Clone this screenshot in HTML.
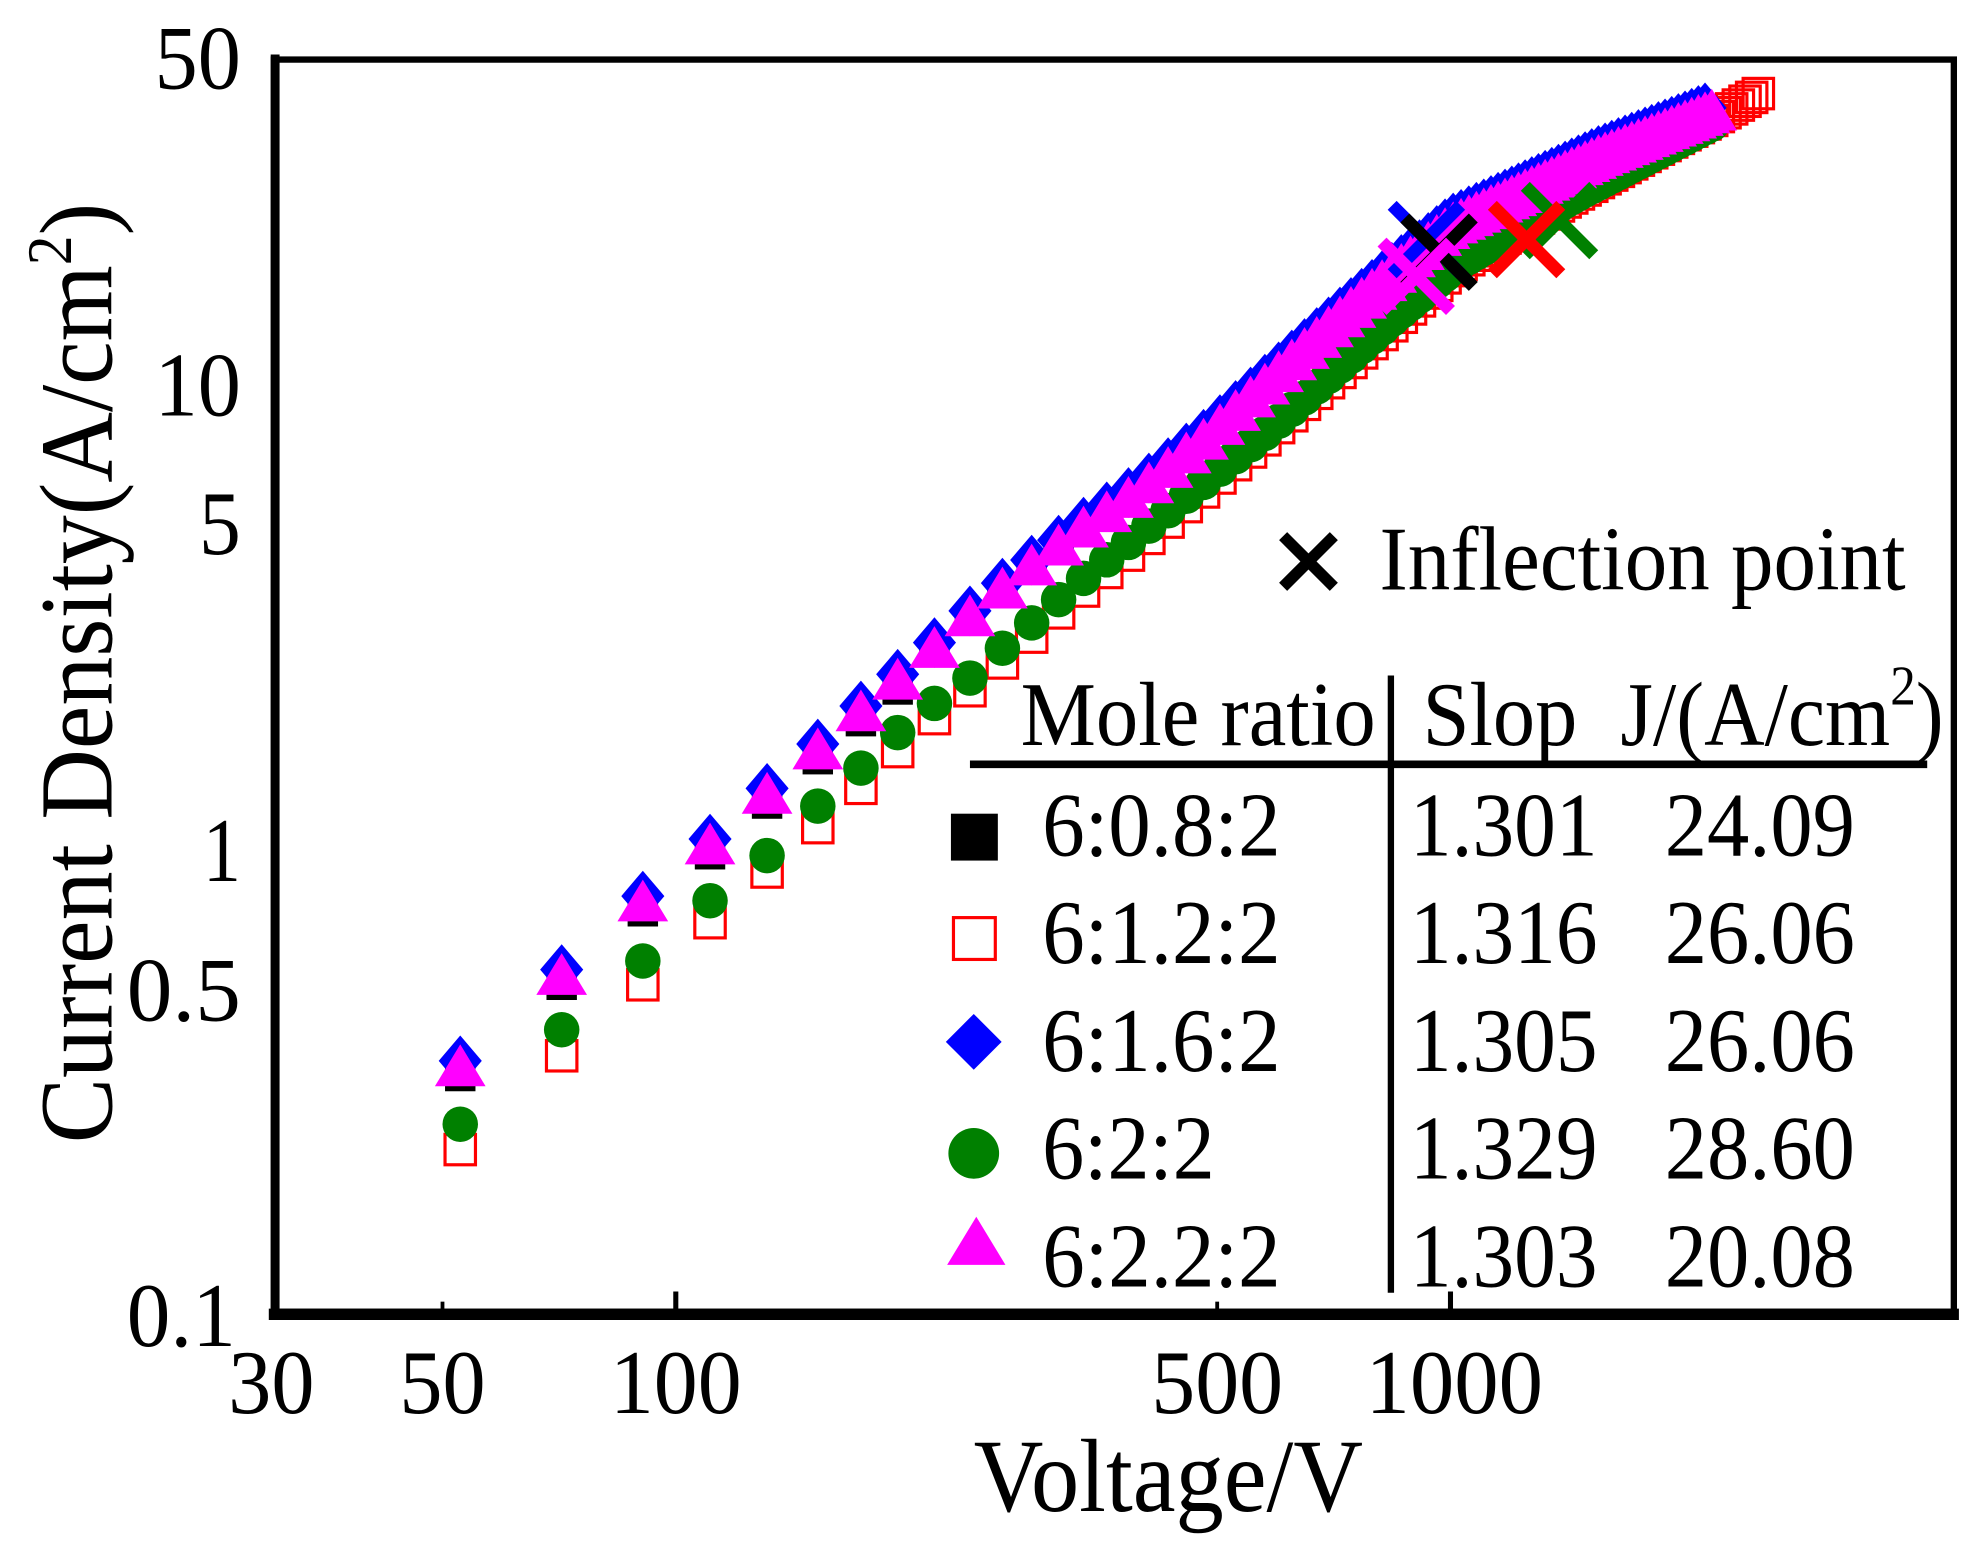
<!DOCTYPE html>
<html><head><meta charset="utf-8"><style>
html,body{margin:0;padding:0;background:#fff;}
svg{display:block;}
text{font-family:"Liberation Serif",serif;fill:#000;}
</style></head><body>
<svg id="s" width="1983" height="1545" viewBox="0 0 1564 1219" preserveAspectRatio="none" xmlns="http://www.w3.org/2000/svg">
<rect x="0" y="0" width="1564" height="1219" fill="#fff"/>
<g id="data"></g>
<rect x="216" y="47" width="1325" height="988" fill="none" stroke="#000" stroke-width="5"/>
<line x1="212" y1="1037" x2="1545" y2="1037" stroke="#000" stroke-width="9"/>
<line x1="217" y1="43" x2="217" y2="1041" stroke="#000" stroke-width="7"/>
<line x1="533" y1="1033" x2="533" y2="1019" stroke="#000" stroke-width="4"/>
<line x1="1144" y1="1033" x2="1144" y2="1019" stroke="#000" stroke-width="4"/>
<line x1="349" y1="1033" x2="349" y2="1027" stroke="#000" stroke-width="3"/>
<line x1="960" y1="1033" x2="960" y2="1027" stroke="#000" stroke-width="3"/>
<g font-size="72" text-anchor="end">
<text x="190" y="70" textLength="68" lengthAdjust="spacingAndGlyphs">50</text>
<text x="190" y="328" textLength="68" lengthAdjust="spacingAndGlyphs">10</text>
<text x="190" y="437" textLength="33" lengthAdjust="spacingAndGlyphs">5</text>
<text x="190" y="695" textLength="30" lengthAdjust="spacingAndGlyphs">1</text>
<text x="190" y="805" textLength="90" lengthAdjust="spacingAndGlyphs">0.5</text>
<text x="186" y="1062" textLength="86" lengthAdjust="spacingAndGlyphs">0.1</text>
</g>
<g font-size="72" text-anchor="middle">
<text x="214" y="1115" textLength="68" lengthAdjust="spacingAndGlyphs">30</text>
<text x="349" y="1115" textLength="68" lengthAdjust="spacingAndGlyphs">50</text>
<text x="533" y="1115" textLength="104" lengthAdjust="spacingAndGlyphs">100</text>
<text x="960" y="1115" textLength="104" lengthAdjust="spacingAndGlyphs">500</text>
<text x="1147" y="1115" textLength="140" lengthAdjust="spacingAndGlyphs">1000</text>
</g>
<text x="768" y="1192" font-size="82" textLength="307" lengthAdjust="spacingAndGlyphs">Voltage/V</text>
<g transform="translate(88,902) rotate(-90)">
<text x="0" y="0" font-size="82" textLength="742" lengthAdjust="spacingAndGlyphs">Current Density(A/cm<tspan font-size="50" dy="-32">2</tspan><tspan dy="32">)</tspan></text>
</g>
<g stroke="#000" stroke-width="9" stroke-linecap="butt">
<line x1="1012" y1="423" x2="1052" y2="463"/><line x1="1052" y1="423" x2="1012" y2="463"/>
</g>
<text x="1088" y="465" font-size="72" textLength="415" lengthAdjust="spacingAndGlyphs">Inflection point</text>
<text x="805" y="588" font-size="72" textLength="280" lengthAdjust="spacingAndGlyphs">Mole ratio</text>
<text x="1122" y="588" font-size="72" textLength="122" lengthAdjust="spacingAndGlyphs">Slop</text>
<text x="1278" y="588" font-size="72" textLength="255" lengthAdjust="spacingAndGlyphs">J/(A/cm<tspan font-size="44" dy="-32">2</tspan><tspan dy="32">)</tspan></text>
<line x1="765" y1="603" x2="1520" y2="603" stroke="#000" stroke-width="6"/>
<line x1="1097" y1="533" x2="1097" y2="1020" stroke="#000" stroke-width="5"/>
<rect x="750" y="642" width="37" height="37" fill="#000"/>
<rect x="752" y="724" width="33" height="33" fill="none" stroke="#f00" stroke-width="2.5"/>
<polygon points="768,800 790,822 768,844 746,822" fill="#00f"/>
<ellipse cx="768" cy="910" rx="20" ry="20" fill="#008000"/>
<polygon points="770,960 793,998 747,998" fill="#f0f"/>
<g font-size="72">
<text x="822" y="675" textLength="188" lengthAdjust="spacingAndGlyphs">6:0.8:2</text>
<text x="822" y="760" textLength="188" lengthAdjust="spacingAndGlyphs">6:1.2:2</text>
<text x="822" y="845" textLength="188" lengthAdjust="spacingAndGlyphs">6:1.6:2</text>
<text x="822" y="930" textLength="136" lengthAdjust="spacingAndGlyphs">6:2:2</text>
<text x="822" y="1015" textLength="188" lengthAdjust="spacingAndGlyphs">6:2.2:2</text>
<text x="1112" y="675" textLength="148" lengthAdjust="spacingAndGlyphs">1.301</text>
<text x="1112" y="760" textLength="148" lengthAdjust="spacingAndGlyphs">1.316</text>
<text x="1112" y="845" textLength="148" lengthAdjust="spacingAndGlyphs">1.305</text>
<text x="1112" y="930" textLength="148" lengthAdjust="spacingAndGlyphs">1.329</text>
<text x="1112" y="1015" textLength="148" lengthAdjust="spacingAndGlyphs">1.303</text>
<text x="1313" y="675" textLength="150" lengthAdjust="spacingAndGlyphs">24.09</text>
<text x="1313" y="760" textLength="150" lengthAdjust="spacingAndGlyphs">26.06</text>
<text x="1313" y="845" textLength="150" lengthAdjust="spacingAndGlyphs">26.06</text>
<text x="1313" y="930" textLength="150" lengthAdjust="spacingAndGlyphs">28.60</text>
<text x="1313" y="1015" textLength="150" lengthAdjust="spacingAndGlyphs">20.08</text>
</g>
</svg>
<script>
(function(){
var NS="http://www.w3.org/2000/svg";
var up=[[363,840],[443,768],[507,710],[560,665],[605,625],[645,590],[679,560],[708,535],[737,510],[765,485],[800,455],[850,418],[900,385],[950,345],[1000,300],[1050,255],[1100,212],[1144,176],[1200,150],[1260,122],[1300,106],[1350,86],[1370,80]];
var gr=[[363,887],[440,815],[505,760],[557,713],[603,677],[645,636],[678,607],[708,578],[737,555],[765,535],[790,512],[850,460],[900,420],[1000,340],[1050,295],[1100,250],[1150,208],[1200,178],[1250,150],[1300,124],[1350,98],[1370,90]];
var rd=[[363,907],[443,833],[507,777],[560,728],[605,688],[645,653],[679,622],[708,593],[737,567],[765,545],[800,515],[850,470],[900,430],[1000,345],[1050,300],[1100,255],[1150,210],[1200,180],[1250,150],[1300,122],[1350,95],[1390,72]];
function itp(p,x){for(var i=0;i<p.length-1;i++){if(x<=p[i+1][0]){var t=(x-p[i][0])/(p[i+1][0]-p[i][0]);return p[i][1]+t*(p[i+1][1]-p[i][1]);}}return p[p.length-1][1];}
var XS=[363,443,507,560,605,645,679,708,737,765];
for(var v=264;v<=2700;v+=Math.max(24,v*0.02))XS.push(533+611*Math.log10(v/100));
var g=document.getElementById("data");
function el(n,a){var e=document.createElementNS(NS,n);for(var k in a)e.setAttribute(k,a[k]);g.appendChild(e);return e;}
XS.forEach(function(x){if(x>1392)return;var y=itp(rd,x);
el("rect",{x:x-12,y:y-12,width:24,height:24,fill:"none",stroke:"#f00","stroke-width":2.5});});
XS.forEach(function(x){if(x>1352)return;var y=itp(gr,x);
el("circle",{cx:x,cy:y,r:14,fill:"#008000"});});
XS.forEach(function(x){if(x>1345)return;var off=x<720?9:4;var y=itp(up,x)+off;
el("rect",{x:x-12,y:y-12,width:24,height:24,fill:"#000"});});
XS.forEach(function(x){if(x>1345)return;var y=itp(up,x)-3;
el("polygon",{points:(x)+","+(y-20)+" "+(x+17)+","+y+" "+x+","+(y+20)+" "+(x-17)+","+y,fill:"#00f"});});
XS.forEach(function(x){if(x>1355)return;var y=itp(up,x)+3;
el("polygon",{points:x+","+(y-19)+" "+(x+20)+","+(y+14)+" "+(x-20)+","+(y+14),fill:"#f0f"});});
var xs=[[1125,189,"#00f"],[1135,199,"#000"],[1117,218,"#f0f"],[1230,174,"#008000"],[1204,189,"#f00"]];
xs.forEach(function(c){var s=27;
el("line",{x1:c[0]-s,y1:c[1]-s,x2:c[0]+s,y2:c[1]+s,stroke:c[2],"stroke-width":10});
el("line",{x1:c[0]+s,y1:c[1]-s,x2:c[0]-s,y2:c[1]+s,stroke:c[2],"stroke-width":10});});
})();
</script>
</body></html>
